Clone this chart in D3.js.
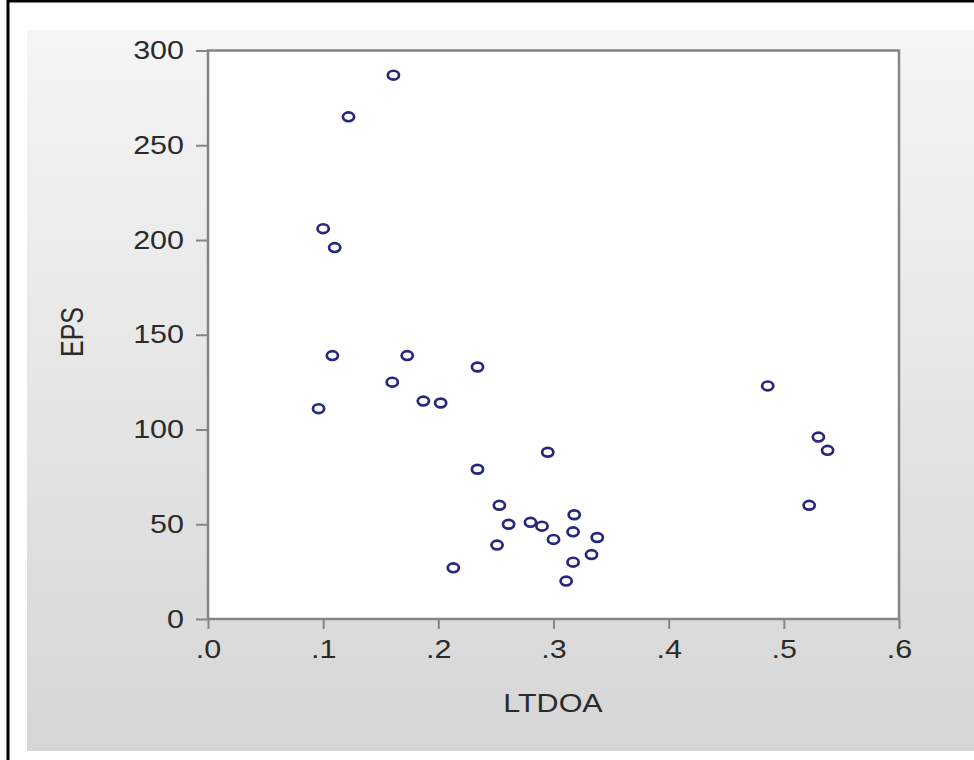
<!DOCTYPE html>
<html>
<head>
<meta charset="utf-8">
<script src="https://cdn.jsdelivr.net/npm/d3@7"></script>
<style>
  body { margin: 0; background: #fff; }
  text { font-family: Arial, "Liberation Sans", sans-serif; fill: #2b2b2b; }
</style>
</head>
<body>
<svg id="chart"></svg>
<script>
// LTDOA (x) and EPS (y)
var ltdoa = [0.161, 0.122, 0.100, 0.110, 0.108, 0.173, 0.234, 0.160, 0.096, 0.187,
             0.202, 0.295, 0.234, 0.253, 0.261, 0.280, 0.290, 0.318, 0.317, 0.300,
             0.338, 0.251, 0.333, 0.317, 0.213, 0.311, 0.486, 0.530, 0.538, 0.522];
var eps = [287, 265, 206, 196, 139, 139, 133, 125, 111, 115,
           114, 88, 79, 60, 50, 51, 49, 55, 46, 42,
           43, 39, 34, 30, 27, 20, 123, 96, 89, 60];
var xTicks = [0, 0.1, 0.2, 0.3, 0.4, 0.5, 0.6];
var yTicks = [0, 50, 100, 150, 200, 250, 300];

var stretch = 1.22; // the picture is a bit wider than tall

var svg = d3.select("#chart")
    .attr("width", 974)
    .attr("height", 760);

var defs = svg.append("defs");
var grad = defs.append("linearGradient")
    .attr("id", "bg")
    .attr("x1", 0).attr("y1", 0).attr("x2", 0).attr("y2", 1);
grad.append("stop").attr("offset", "0%").attr("stop-color", "#f5f5f5");
grad.append("stop").attr("offset", "100%").attr("stop-color", "#d6d6d6");

// black frame round the picture
svg.append("rect")
    .attr("x", 8).attr("y", 1)
    .attr("width", 980).attr("height", 780)
    .attr("fill", "none")
    .attr("stroke", "#000")
    .attr("stroke-width", 3);

// gray panel
svg.append("rect")
    .attr("x", 27).attr("y", 30)
    .attr("width", 947).attr("height", 721)
    .attr("fill", "url(#bg)");

var x = d3.scaleLinear().domain([0, 0.6]).range([208, 899]),
    y = d3.scaleLinear().domain([0, 300]).range([619, 50.5]);

// plot area
svg.append("rect")
    .attr("x", x(0)).attr("y", y(300))
    .attr("width", x(0.6) - x(0))
    .attr("height", y(0) - y(300))
    .attr("fill", "#fff")
    .attr("stroke", "#858585")
    .attr("stroke-width", 2.5);

var xAxis = d3.axisBottom(x)
    .tickValues(xTicks)
    .tickSize(10)
    .tickPadding(11)
    .tickFormat(function (d) { return d3.format(".1f")(d).replace(/^0/, ""); });
var yAxis = d3.axisLeft(y)
    .tickValues(yTicks)
    .tickSize(12)
    .tickPadding(12)
    .tickFormat(d3.format("d"));

var gx = svg.append("g")
    .attr("transform", "translate(0," + y(0) + ")")
    .call(xAxis);
var gy = svg.append("g")
    .attr("transform", "translate(" + x(0) + ",0)")
    .call(yAxis);

[gx, gy].forEach(function (g) {
    g.select(".domain").remove();
    g.selectAll("line").attr("stroke", "#858585").attr("stroke-width", 2);
    g.selectAll("text")
        .attr("fill", "#2b2b2b")
        .style("font-family", "Arial, 'Liberation Sans', sans-serif")
        .style("font-size", "25px")
        .attr("transform", function () {
            var ax = +d3.select(this).attr("x") || 0;
            return "translate(" + ax + ",0) scale(" + stretch + ",1) translate(" + (-ax) + ",0)";
        });
});

// axis titles
svg.append("text")
    .attr("transform", "translate(553,712) scale(" + stretch + ",1)")
    .attr("text-anchor", "middle")
    .style("font-size", "25px")
    .text("LTDOA");
svg.append("text")
    .attr("transform", "translate(83,332) scale(" + stretch + ",1) rotate(-90)")
    .attr("text-anchor", "middle")
    .style("font-size", "25px")
    .text("EPS");

// points
var pts = ltdoa.map(function (v, i) { return { x: v, y: eps[i] }; });
svg.append("g").selectAll("ellipse").data(pts)
    .enter()
    .append("ellipse")
    .attr("cx", function (d) { return x(d.x); })
    .attr("cy", function (d) { return y(d.y); })
    .attr("rx", 5.6)
    .attr("ry", 4.4)
    .attr("fill", "none")
    .attr("stroke", "#27277c")
    .attr("stroke-width", 2.7);
</script>
</body>
</html>
